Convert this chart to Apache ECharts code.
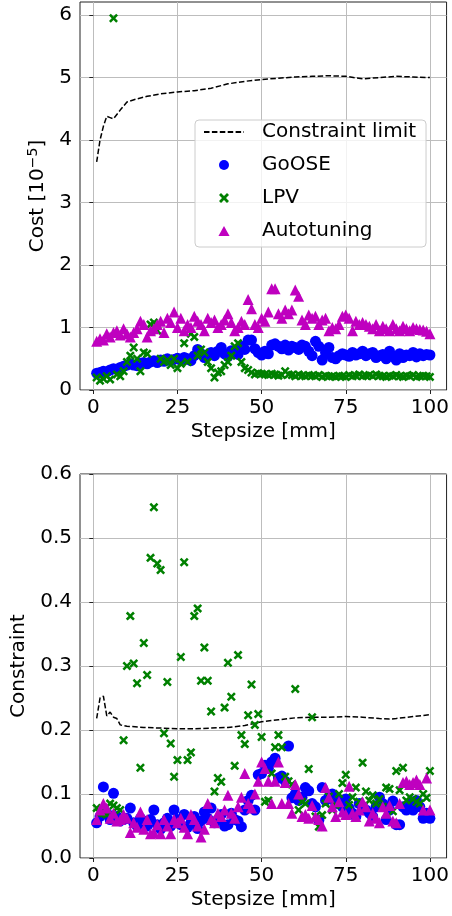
<!DOCTYPE html>
<html><head><meta charset="utf-8">
<script src="https://cdn.jsdelivr.net/npm/echarts@6/dist/echarts.min.js"></script>
<style>html,body{margin:0;padding:0;background:#fff}#c{width:452px;height:916px}</style>
</head><body><div id="c"></div>
<script>
// ---------- data ----------
const steps = [1,2,3,4,5,6,7,8,9,10,11,12,13,14,15,16,17,18,19,20,21,22,23,24,25,26,27,28,29,30,31,32,33,34,35,36,37,38,39,40,41,42,43,44,45,46,47,48,49,50,51,52,53,54,55,56,57,58,59,60,61,62,63,64,65,66,67,68,69,70,71,72,73,74,75,76,77,78,79,80,81,82,83,84,85,86,87,88,89,90,91,92,93,94,95,96,97,98,99,100];

const xTicks = [0,25,50,75,100];
const costTicks = [0,1,2,3,4,5,6];
const consTicks = [0,0.1,0.2,0.3,0.4,0.5,0.6];

const costLimitX = [1,2,3,4,5,6,8,10,13,16,20,25,30,35,40,45,50,55,60,65,70,75,80,85,90,95,100];
const costLimitY = [3.65,4.00,4.22,4.38,4.36,4.34,4.48,4.61,4.66,4.70,4.74,4.77,4.79,4.83,4.90,4.94,4.97,4.99,5.01,5.02,5.03,5.02,4.98,5.00,5.02,5.01,5.00];

const costGoOSE = [0.27,0.28,0.30,0.29,0.32,0.34,0.33,0.36,0.38,0.40,
  0.42,0.40,0.39,0.43,0.44,0.42,0.45,0.47,0.44,0.48,
  0.46,0.50,0.47,0.49,0.51,0.48,0.52,0.50,0.47,0.55,
  0.65,0.58,0.52,0.56,0.60,0.55,0.62,0.68,0.58,0.54,
  0.63,0.60,0.57,0.70,0.65,0.80,0.80,0.66,0.60,0.56,
  0.62,0.58,0.72,0.74,0.70,0.66,0.72,0.64,0.70,0.68,
  0.65,0.72,0.70,0.62,0.55,0.78,0.70,0.48,0.60,0.68,
  0.52,0.50,0.55,0.58,0.56,0.54,0.60,0.56,0.58,0.62,
  0.55,0.58,0.60,0.52,0.55,0.57,0.50,0.62,0.54,0.48,
  0.58,0.52,0.56,0.55,0.60,0.53,0.58,0.55,0.57,0.56];

const costLPV = [0.20,0.15,0.18,0.22,0.17,5.95,0.25,0.22,0.30,0.45,
  0.55,0.68,0.50,0.30,0.60,0.58,1.05,1.08,0.95,0.50,
  0.45,0.48,0.40,0.50,0.35,0.42,0.75,0.45,0.90,0.85,
  0.55,0.65,0.60,0.45,0.35,0.20,0.28,0.30,0.40,0.45,
  0.55,0.70,0.75,0.45,0.35,0.32,0.28,0.25,0.27,0.26,
  0.25,0.24,0.26,0.25,0.23,0.24,0.30,0.25,0.24,0.22,
  0.25,0.23,0.22,0.24,0.23,0.22,0.24,0.21,0.23,0.22,
  0.22,0.21,0.23,0.22,0.21,0.24,0.22,0.23,0.25,0.22,
  0.23,0.24,0.22,0.25,0.23,0.22,0.21,0.23,0.22,0.24,
  0.22,0.21,0.23,0.22,0.24,0.21,0.22,0.23,0.22,0.21];

const costAuto = [0.78,0.82,0.80,0.90,0.85,0.92,0.95,0.88,0.98,0.90,
  0.85,0.92,0.98,1.10,1.05,0.85,0.95,0.98,1.05,1.10,
  0.92,1.15,1.08,1.25,1.00,1.15,0.95,1.05,1.00,1.18,
  1.10,1.05,0.95,1.15,1.08,1.12,1.00,1.05,1.12,1.22,
  1.08,0.95,1.00,1.10,1.05,1.45,1.30,1.05,1.00,1.15,
  1.10,1.25,1.62,1.62,1.22,1.15,1.28,1.22,1.28,1.60,
  1.50,1.12,1.05,1.20,1.15,1.18,1.05,1.12,1.15,0.95,
  1.00,0.98,1.05,1.18,1.20,1.15,0.95,1.10,1.05,1.08,
  1.05,1.02,0.98,1.05,0.95,1.02,0.98,0.95,1.05,0.98,
  0.95,1.02,0.98,0.95,1.00,0.98,0.97,0.96,0.94,0.90];

const consLimitX = [1,2,3,4,5,6,7,8,10,15,20,25,30,35,40,45,50,55,60,65,70,75,80,85,88,90,95,100];
const consLimitY = [0.218,0.250,0.253,0.222,0.228,0.220,0.218,0.208,0.206,0.204,0.203,0.202,0.202,0.203,0.204,0.207,0.213,0.216,0.219,0.220,0.220,0.221,0.220,0.218,0.217,0.218,0.221,0.224];

const consGoOSE = [0.055,0.065,0.111,0.070,0.060,0.101,0.065,0.058,0.060,0.062,
  0.078,0.055,0.050,0.062,0.058,0.050,0.060,0.075,0.052,0.045,
  0.055,0.062,0.050,0.075,0.060,0.052,0.068,0.048,0.055,0.065,
  0.046,0.058,0.072,0.062,0.078,0.055,0.060,0.068,0.050,0.052,
  0.070,0.060,0.058,0.049,0.075,0.090,0.098,0.075,0.130,0.132,
  0.145,0.140,0.150,0.156,0.125,0.128,0.120,0.175,0.094,0.100,
  0.090,0.095,0.110,0.105,0.085,0.080,0.059,0.110,0.090,0.095,
  0.100,0.085,0.090,0.080,0.092,0.078,0.070,0.065,0.085,0.080,
  0.075,0.070,0.065,0.080,0.095,0.085,0.060,0.075,0.089,0.052,
  0.052,0.080,0.075,0.085,0.075,0.090,0.080,0.062,0.070,0.062];

const consLPV = [0.078,0.070,0.070,0.068,0.085,0.082,0.078,0.075,0.184,0.300,
  0.378,0.304,0.273,0.141,0.336,0.286,0.469,0.548,0.460,0.450,
  0.195,0.275,0.179,0.127,0.153,0.314,0.462,0.153,0.165,0.378,
  0.390,0.277,0.329,0.277,0.229,0.104,0.125,0.119,0.235,0.305,
  0.252,0.144,0.317,0.192,0.178,0.223,0.271,0.208,0.225,0.189,
  0.088,0.090,0.132,0.173,0.192,0.173,0.127,0.120,0.115,0.264,
  0.075,0.088,0.085,0.139,0.220,0.065,0.049,0.067,0.085,0.096,
  0.075,0.083,0.100,0.117,0.130,0.083,0.095,0.110,0.088,0.149,
  0.104,0.090,0.098,0.085,0.092,0.080,0.110,0.108,0.073,0.136,
  0.106,0.141,0.090,0.095,0.092,0.088,0.085,0.100,0.094,0.136];

const consAuto = [0.060,0.075,0.085,0.078,0.062,0.070,0.058,0.060,0.068,0.062,
  0.040,0.055,0.048,0.072,0.045,0.060,0.038,0.040,0.052,0.038,
  0.060,0.050,0.038,0.060,0.055,0.062,0.048,0.038,0.068,0.060,
  0.050,0.033,0.045,0.085,0.060,0.055,0.070,0.065,0.075,0.098,
  0.070,0.062,0.080,0.095,0.132,0.085,0.078,0.100,0.120,0.150,
  0.140,0.120,0.085,0.120,0.150,0.085,0.118,0.085,0.070,0.115,
  0.100,0.065,0.068,0.062,0.082,0.065,0.060,0.050,0.110,0.095,
  0.080,0.065,0.088,0.072,0.068,0.112,0.070,0.065,0.075,0.088,
  0.080,0.058,0.070,0.062,0.055,0.080,0.070,0.082,0.058,0.055,
  0.085,0.118,0.120,0.115,0.118,0.122,0.115,0.075,0.125,0.075];

// ---------- chart ----------
const FONT = 'DejaVu Sans';
const BLUE = '#0000ff', GREEN = '#008000', MAGENTA = '#bf00bf';
const XSYM = 'path://M0,2L2,0L5,3L8,0L10,2L7,5L10,8L8,10L5,7L2,10L0,8L3,5Z';
const TRI = 'path://M5,0L10,9L0,9Z';
const pair = (xs, ys) => xs.map((x, i) => [x, ys[i]]);

function xAxisFor(gi) {
  return {
    gridIndex: gi, type: 'value', min: -3.95, max: 104.95,
    name: 'Stepsize [mm]', nameLocation: 'middle', nameGap: 32,
    nameTextStyle: {fontSize: 20, color: '#000', fontFamily: FONT},
    axisLine: {show: false},
    axisTick: {show: true, customValues: xTicks, length: 4, lineStyle: {color: '#222', width: 1}},
    axisLabel: {customValues: xTicks, fontSize: 20, color: '#000', fontFamily: FONT, margin: 8},
    splitLine: {show: true, lineStyle: {color: '#bdbdbd', width: 1}}
  };
}
function yAxisFor(gi, max, ticks, name, gap, rich, fmt) {
  const o = {
    gridIndex: gi, type: 'value', min: 0, max: max,
    name: name, nameLocation: 'middle', nameGap: gap, nameRotate: 90,
    nameTextStyle: {fontSize: 20, color: '#000', fontFamily: FONT},
    axisLine: {show: false},
    axisTick: {show: true, customValues: ticks, length: 4, lineStyle: {color: '#222', width: 1}},
    axisLabel: {customValues: ticks, fontSize: 20, color: '#000', fontFamily: FONT, margin: 8, formatter: fmt},
    splitLine: {show: true, lineStyle: {color: '#bdbdbd', width: 1}}
  };
  if (rich) o.nameTextStyle.rich = rich;
  return o;
}

const limitStyle = {color: '#000', width: 1.5, type: [5.5, 2.4]};
function seriesFor(gi, limX, limY, g, l, a) {
  return [
    {name: 'Constraint limit', type: 'line', xAxisIndex: gi, yAxisIndex: gi, data: pair(limX, limY),
     symbol: 'none', showSymbol: false, lineStyle: limitStyle, itemStyle: {color: '#000'}, z: 2},
    {name: 'GoOSE', type: 'scatter', xAxisIndex: gi, yAxisIndex: gi, data: pair(steps, g),
     symbol: 'circle', symbolSize: 11, symbolKeepAspect: true, itemStyle: {color: BLUE, opacity: 1}, z: 3},
    {name: 'LPV', type: 'scatter', xAxisIndex: gi, yAxisIndex: gi, data: pair(steps, l),
     symbol: XSYM, symbolSize: 9, symbolKeepAspect: true, itemStyle: {color: GREEN, opacity: 1}, z: 4},
    {name: 'Autotuning', type: 'scatter', xAxisIndex: gi, yAxisIndex: gi, data: pair(steps, a),
     symbol: 'triangle', symbolSize: 11, symbolKeepAspect: true, itemStyle: {color: MAGENTA, opacity: 1}, z: 5}
  ];
}

const chart = echarts.init(document.getElementById('c'), null, {renderer: 'canvas'});
chart.setOption({
  animation: false,
  backgroundColor: '#fff',
  textStyle: {fontFamily: FONT},
  grid: [
    {left: 80, top: 2, width: 367, height: 388, show: true, borderColor: '#222', borderWidth: 1, backgroundColor: 'transparent'},
    {left: 80, top: 474, width: 367, height: 384, show: true, borderColor: '#222', borderWidth: 1, backgroundColor: 'transparent'}
  ],
  xAxis: [xAxisFor(0), xAxisFor(1)],
  yAxis: [
    yAxisFor(0, 6.21, costTicks, '{a|Cost [10}{s|\u22125}{a|]}', 30,
      {a: {fontSize: 20, color: '#000', fontFamily: FONT, lineHeight: 24},
       s: {fontSize: 14, color: '#000', fontFamily: FONT, lineHeight: 8, verticalAlign: 'top'}},
      v => String(v)),
    yAxisFor(1, 0.6, consTicks, 'Constraint', 48, null, v => v.toFixed(1))
  ],
  legend: {
    left: 195, top: 120, orient: 'vertical',
    symbolKeepAspect: true,
    data: [
      {name: 'Constraint limit', itemStyle: {opacity: 0}},
      {name: 'GoOSE'},
      {name: 'LPV'},
      {name: 'Autotuning', icon: TRI}
    ],
    itemWidth: 40, itemHeight: 10, itemGap: 13,
    padding: [2, 10, 6, 8],
    backgroundColor: 'rgba(255,255,255,0.8)', borderColor: '#cccccc', borderWidth: 1, borderRadius: 4,
    textStyle: {fontSize: 20, color: '#000', fontFamily: FONT, lineHeight: 20, padding: [0, 0, 0, 13]},
    selectedMode: false
  },
  series: [].concat(
    seriesFor(0, costLimitX, costLimitY, costGoOSE, costLPV, costAuto),
    seriesFor(1, consLimitX, consLimitY, consGoOSE, consLPV, consAuto)
  )
});
</script></body></html>
